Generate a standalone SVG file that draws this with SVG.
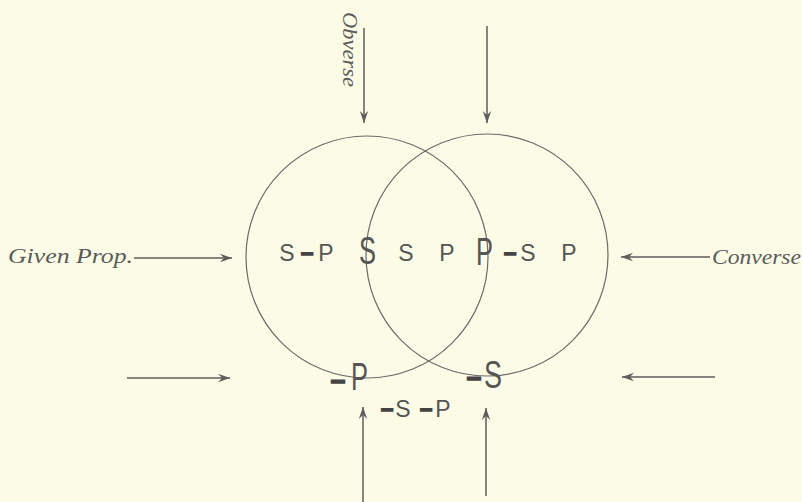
<svg xmlns="http://www.w3.org/2000/svg" width="802" height="502" viewBox="0 0 802 502">
<style>
.bg{fill:#fcfce6}
.circ{fill:none;stroke:#6a6a6a;stroke-width:1.2}
.ln{stroke:#5e5e5e;stroke-width:1.5;fill:none}
.it{font-family:"Liberation Serif",serif;font-style:italic;fill:#5a5a5a;font-size:20px}
.sm{font-family:"Liberation Sans",sans-serif;fill:#555;font-size:23px;text-anchor:middle}
.big{font-family:"Liberation Sans",sans-serif;fill:#555;font-size:38px}
.d{font-family:"Liberation Sans",sans-serif;font-weight:bold;fill:#444;stroke:#444;stroke-width:1.6;text-anchor:middle}
</style>
<defs>
<marker id="ah" viewBox="0 0 12 10" refX="12" refY="5" markerWidth="12" markerHeight="10" markerUnits="userSpaceOnUse" orient="auto">
<path d="M0,0.8 L12,5 L0,9.2 L4,5 Z" fill="#5e5e5e"/>
</marker>
</defs>
<rect class="bg" x="0" y="0" width="802" height="502"/>
<g id="circles">
<circle id="circleS" class="circ" cx="367" cy="257" r="121"/>
<circle id="circleP" class="circ" cx="487" cy="255" r="121"/>
</g>
<g id="connectors">
<line class="ln" x1="364" y1="28" x2="364" y2="123" marker-end="url(#ah)"/>
<line class="ln" x1="487" y1="26" x2="487" y2="123" marker-end="url(#ah)"/>
<line class="ln" x1="134" y1="258" x2="232" y2="258" marker-end="url(#ah)"/>
<line class="ln" x1="710" y1="257" x2="621" y2="257" marker-end="url(#ah)"/>
<line class="ln" x1="127" y1="378" x2="230" y2="378" marker-end="url(#ah)"/>
<line class="ln" x1="715" y1="377" x2="622" y2="377" marker-end="url(#ah)"/>
<line class="ln" x1="363" y1="502" x2="363" y2="407" marker-end="url(#ah)"/>
<line class="ln" x1="486" y1="496" x2="486" y2="408" marker-end="url(#ah)"/>
</g>
<g id="labels">
<text class="it" transform="translate(343,12) rotate(90)" textLength="75" lengthAdjust="spacingAndGlyphs">Obverse</text>
<text class="it" x="8" y="263" textLength="125" lengthAdjust="spacingAndGlyphs">Given Prop.</text>
<text class="it" x="712" y="264" textLength="89" lengthAdjust="spacingAndGlyphs">Converse</text>
</g>
<g id="left-region">
<text class="sm" x="287" y="261">S</text>
<text class="d" x="307" y="260" font-size="22">–</text>
<text class="sm" x="326" y="261">P</text>
</g>
<g id="S-label">
<text class="big" x="359" y="264" textLength="17" lengthAdjust="spacingAndGlyphs">S</text>
</g>
<g id="middle-region">
<text class="sm" x="406" y="261">S</text>
<text class="sm" x="447" y="261">P</text>
</g>
<g id="P-label">
<text class="big" x="476" y="265" textLength="17" lengthAdjust="spacingAndGlyphs">P</text>
</g>
<g id="right-region">
<text class="d" x="510" y="260" font-size="22">–</text>
<text class="sm" x="528" y="261">S</text>
<text class="sm" x="569" y="261">P</text>
</g>
<g id="notP-label">
<text class="d" x="338" y="389" font-size="26">–</text>
<text class="big" x="351" y="390" textLength="17" lengthAdjust="spacingAndGlyphs">P</text>
</g>
<g id="notS-label">
<text class="d" x="474" y="386" font-size="26">–</text>
<text class="big" x="484" y="388" textLength="18" lengthAdjust="spacingAndGlyphs">S</text>
</g>
<g id="outer-region">
<text class="d" x="387" y="416" font-size="22">–</text>
<text class="sm" x="403" y="417">S</text>
<text class="d" x="426" y="416" font-size="22">–</text>
<text class="sm" x="443" y="417">P</text>
</g>
</svg>
